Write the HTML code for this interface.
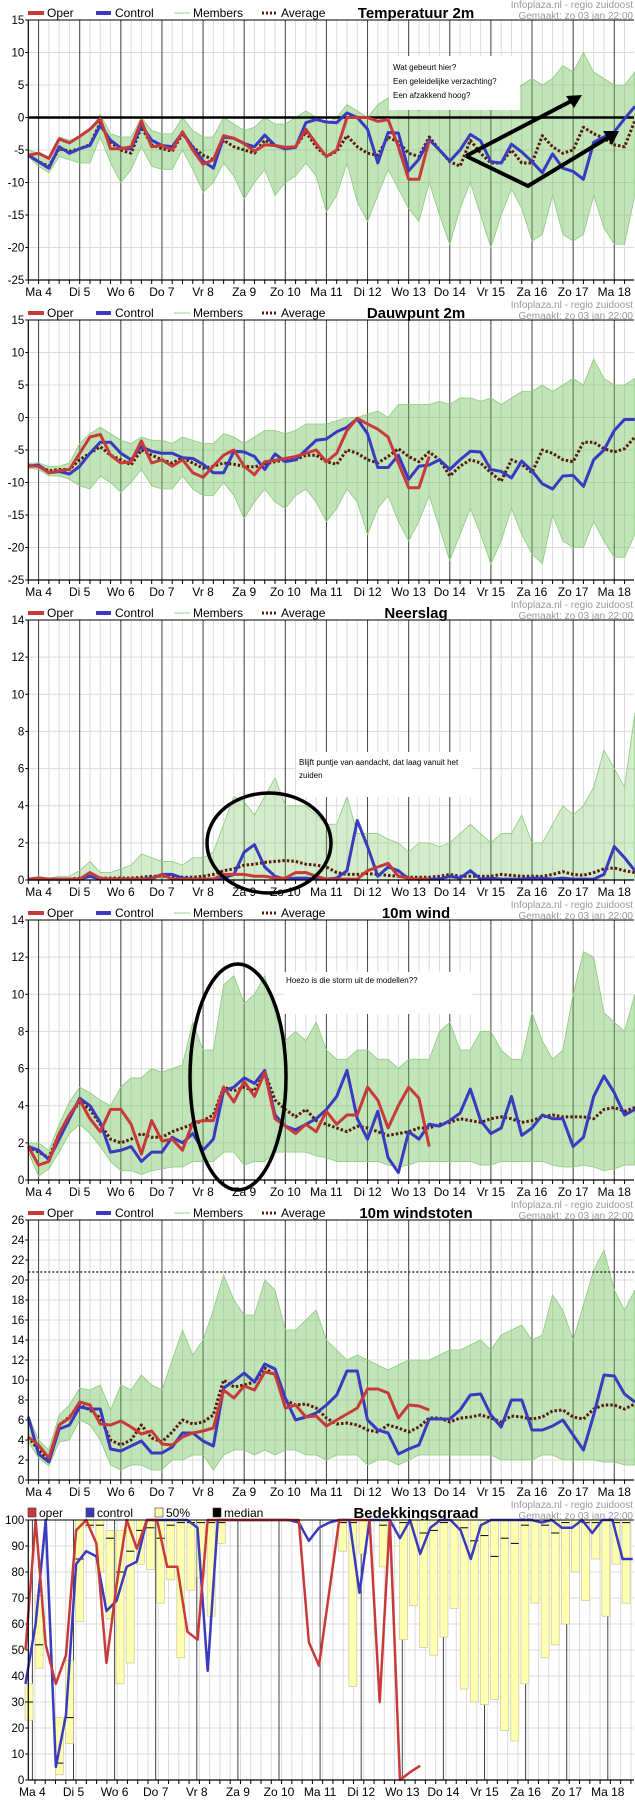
<!DOCTYPE html>
<html><head><meta charset="utf-8"><title>Ensemble pluim</title>
<style>
html,body{margin:0;padding:0;background:#fff;}
svg{display:block;font-family:"Liberation Sans",sans-serif;}
</style></head>
<body>
<svg id="chart" width="635" height="1800" viewBox="0 0 635 1800" xmlns="http://www.w3.org/2000/svg"></svg>
<script>
// ---------- shared labels ----------
const dayLabels = ["Ma 4","Di 5","Wo 6","Do 7","Vr 8","Za 9","Zo 10","Ma 11","Di 12","Wo 13","Do 14","Vr 15","Za 16","Zo 17","Ma 18"];

// ---------- Temperatuur 2m ----------
const tempOper = [-5.8,-5.5,-6.3,-3.3,-3.9,-2.9,-1.8,-0.2,-4.8,-4.8,-4.5,-0.5,-4.5,-4.3,-5,-2.2,-5,-7.2,-6.5,-2.8,-3.2,-4,-5.2,-4.2,-4.3,-4.6,-4.5,-1.8,-4,-6,-5,0,0,0,-0.6,-0.3,-4.5,-9.5,-9.5,-3.5];
const tempControl = [-5.8,-6.8,-7.8,-4.5,-5.5,-4.8,-4.3,-1.2,-3.5,-4.7,-4.8,-1.2,-3.5,-4.3,-4.5,-2.3,-4.6,-6.7,-7.8,-3,-3.2,-4,-4.5,-2.7,-4.3,-4.8,-4.6,-0.8,-0.3,-0.7,-0.8,0.7,0,-1.8,-7,-2.3,-2.4,-8.2,-6.4,-3.4,-5,-6.7,-5,-2.6,-3.6,-6.8,-7,-4.1,-5.3,-6.8,-8.5,-5.6,-7.8,-8.3,-9.5,-3.8,-3,-2.2,-0.2,1.7];
const tempAvg = [-5.8,-6.8,-7.5,-4.8,-5.2,-4.8,-4.2,-0.8,-3.8,-5,-5.5,-1.5,-4.2,-4.8,-5.2,-2.5,-4.5,-5.8,-6.5,-3.5,-4.5,-5,-5.5,-3.5,-4.3,-4.8,-4.5,-2.2,-4.5,-6,-5.2,-2.8,-4.5,-5.5,-5.8,-3,-3.8,-5.5,-6,-3,-5,-6.8,-7.5,-3.5,-5.5,-7,-7,-5,-7,-7,-2.8,-4.5,-5.5,-5,-1.5,-2.5,-3.2,-4.2,-4.5,-0.5];
const tempLow = [-6,-7.5,-8.5,-6,-6.5,-7,-7,-3,-7,-10,-8,-4.5,-7.5,-8,-8,-5,-8,-11.5,-10,-7,-9,-12.5,-10,-8,-12,-10,-9,-7,-9,-14.5,-12,-7,-13,-16,-12,-8,-11,-14,-16,-10,-15,-19.5,-14,-10,-15,-20,-15,-11,-14,-19,-18,-12,-18,-19,-18,-12,-17,-19.5,-19.5,-12];
const tempHigh = [-5,-5.5,-6,-3,-3.5,-3,-2,0.5,-2.5,-3,-3,0,-2,-2.5,-2.5,0,-2,-3,-3,0,-1,-2,-1.5,0,-1,-1,0,1,0,-1,0,2,1,0,2,3,3,2,1,2,3,2,3,4,3,3,2,4,5,6,5,6,8,7,10,7,6,5,5,7];

// ---------- Dauwpunt 2m ----------
const dewOper = [-7.4,-7.5,-8.5,-8.2,-8,-5.5,-3,-2.6,-5.8,-7,-6.8,-3.6,-7,-6.5,-7.5,-6.5,-8.5,-9.2,-7.5,-5.8,-5,-7.5,-8.8,-6.8,-6.6,-6.3,-6,-5.5,-5,-6.8,-5.5,-2,-0.1,-1,-1.8,-3,-7,-10.8,-10.8,-6];
const dewControl = [-7.5,-7.3,-8.5,-8.3,-8.7,-7.5,-5.5,-3.8,-3.8,-5.5,-6.5,-4.5,-5.2,-5.5,-5.5,-6.2,-6.3,-7.2,-8.5,-8.5,-5.2,-5.3,-6,-8,-5.6,-6.8,-6.5,-5,-3.5,-3.3,-2.2,-1.5,-0.2,-2.5,-7.7,-7.7,-5.8,-9.5,-7.5,-7.3,-6.5,-8,-6.5,-5.2,-5.3,-8,-8.3,-9.3,-6.7,-8.2,-10.2,-11,-9,-8.9,-10.6,-6.5,-5,-2,-0.3,-0.3];
const dewAvg = [-7.4,-7.5,-8.2,-8,-8,-6.5,-5.5,-4.5,-5.8,-6.5,-7.3,-5,-5.8,-6.5,-7,-6.2,-7,-7.8,-7.5,-7,-7.2,-7.5,-7.6,-7.2,-6.8,-6.5,-6.5,-5.8,-5.8,-6.8,-7.2,-5,-5.5,-6.5,-7,-6,-4.8,-6,-6.8,-5.3,-6.5,-9,-7.5,-6.5,-7,-8.5,-9.8,-6.5,-7.2,-8.5,-5,-5.5,-6.5,-6.8,-3.8,-3.8,-4.8,-5.3,-4.8,-3];
const dewLow = [-7.8,-8,-9,-9,-9.5,-10.5,-11,-9,-10,-11.5,-10,-8,-10.5,-11,-11,-9,-11,-12,-12,-10,-12,-15.5,-13,-11,-13,-14,-12,-11,-13,-16,-14,-11,-13,-18,-14,-12,-16,-19,-16,-12,-17,-22,-18,-14,-18,-22.5,-19,-14,-18,-21,-22.5,-15,-19,-20,-20,-16,-19,-21.5,-21.5,-18];
const dewHigh = [-7,-7,-7.5,-7.5,-7,-4,-2.5,-1.5,-2.5,-3.5,-4,-3,-3.5,-3.5,-4,-3,-3.5,-4,-4,-2.5,-3,-4,-3,-2,-2,-2.5,-2,-1,-1,-1,-0.5,0,0,0.5,1,0,2,2,2,2,2.5,2,3,3,2.5,3,2,3,4,4,5,4,5,6,5,9,6,5,5,6];

// ---------- Neerslag ----------
const rainOper = [0.05,0.1,0.05,0.05,0.05,0.05,0.4,0.1,0.05,0.05,0.05,0.05,0.05,0.3,0.05,0.05,0.05,0.05,0.05,0.3,0.3,0.3,0.2,0.2,0.1,0.1,0.4,0.4,0.2,0.05,0.05,0.05,0.05,0.5,0.7,0.9,0.2,0.1,0.05,0.05];
const rainControl = [0.05,0.05,0.05,0.05,0.05,0.05,0.2,0.05,0.05,0.05,0.05,0.05,0.1,0.3,0.3,0.1,0.05,0.05,0.05,0.1,0.3,1.5,1.9,0.7,0.2,0.05,0.1,0.1,0.05,0.05,0.1,0.5,3.2,1.8,0.2,0.7,0.5,0.05,0.05,0.05,0.05,0.2,0.1,0.5,0.05,0.1,0.05,0.05,0.05,0.1,0.1,0.05,0.1,0.05,0.05,0.05,0.3,1.8,1.2,0.5];
const rainAvg = [0.05,0.05,0.05,0.05,0.05,0.1,0.2,0.1,0.1,0.1,0.1,0.15,0.2,0.2,0.2,0.15,0.15,0.2,0.3,0.5,0.6,0.8,0.85,0.95,1.0,1.05,1.0,0.85,0.8,0.7,0.4,0.3,0.3,0.35,0.3,0.25,0.2,0.15,0.15,0.15,0.2,0.3,0.2,0.2,0.2,0.2,0.3,0.25,0.2,0.2,0.2,0.3,0.45,0.3,0.25,0.4,0.6,0.65,0.5,0.4];
const rainLow = [0,0,0,0,0,0,0,0,0,0,0,0,0,0,0,0,0,0,0,0,0,0,0,0,0,0,0,0,0,0,0,0,0,0,0,0,0,0,0,0,0,0,0,0,0,0,0,0,0,0,0,0,0,0,0,0,0,0,0,0];
const rainHigh = [0.1,0.2,0.1,0.2,0.2,0.5,1,0.4,0.4,0.6,0.8,1.4,1.2,1,1,0.8,1.2,1.2,1.5,3,4.5,4.2,3.5,4.5,5.5,4,4,4,3.5,3,3,4.5,2.5,2.5,2.5,2.2,2,1.5,2,2,1.8,2,2.5,3,2.5,2,2.5,2.5,3.5,2,2,3,4,3.5,4,5,7,6,5,9];

// ---------- 10m wind ----------
const windOper = [1.8,0.8,1,2.5,3.5,4.3,3.3,2.6,3.8,3.8,3,1.4,3.2,2.1,2.2,1.6,3.1,3.2,3.2,5,4.2,5.3,4.5,5.8,3.3,2.9,2.5,3,2.6,3.7,3,3.5,3.5,5,4.3,2.8,4,5,4.4,1.8];
const windControl = [1.8,1.6,1.1,2.2,3.3,4.4,4,3.1,1.5,1.6,1.8,1,1.5,1.5,2.3,2,2.5,1.6,2.2,4.8,5,5.5,5.2,5.9,3.5,2.9,2.7,3,3.3,3.8,4.5,5.9,3.3,2.2,3.7,1.2,0.4,2.6,2.2,3,2.9,3.2,3.6,4.9,3.2,2.5,2.8,4.5,2.4,2.8,3.5,3.3,3.3,1.8,2.3,4.5,5.6,4.7,3.5,3.8];
const windAvg = [1.8,1.5,1.2,2.5,3.5,4.2,3.8,3,2.2,2,2.2,2.5,2.3,2.3,2.6,2.8,3,3.2,3.5,5,4.8,5,4.8,5.8,4.3,3.8,3.4,3.8,3.2,3,2.8,2.6,2.9,2.8,2.6,2.4,2.5,2.6,2.8,2.8,3,3.1,3.3,3.2,3.1,3.3,3.4,3.3,3.1,3.2,3.4,3.5,3.4,3.4,3.4,3.3,3.8,3.9,3.7,3.9];
const windLow = [1.5,0.2,0.6,1.5,2.5,3,2.5,1.8,1,0.5,0.5,0.3,0.5,0.6,0.7,0.7,1,1,1,1.5,1.5,0.8,1,1,1.5,1.5,1.5,1.5,1.3,1.2,1,1,1,1,1,0.8,0.7,0.8,1,1,1,1,1,1,0.8,0.8,1,1,1,1,1,0.8,0.7,0.7,0.8,0.7,0.5,0.6,0.8,0.8];
const windHigh = [2,2,1.6,3,4.2,5,4.7,4.3,4,5,5.5,5.5,6,5.8,6,6.2,8.5,7,7,10.5,11,9.5,10,11,9,7.5,8,7.5,8.5,7,6.5,6.5,7,7,6.5,6.5,6,6.5,6.5,6.5,8,8.5,7,7,8,8,7,6.5,6.5,9,7.5,6.5,7,10,12.3,12,9,8.5,8,10];

// ---------- 10m windstoten ----------
const gustOper = [4.3,3.5,2.2,5.5,6.2,7.8,7.5,5.6,5.5,5.9,5.3,4.6,4.9,3.6,3.5,4.3,4.7,4.9,5.2,9,8.2,9.4,9,10.8,10.6,7.2,7.5,6.3,6.4,5.4,6,6.6,7.2,9.1,9.1,8.7,6.2,7.5,7.4,7];
const gustControl = [6.3,2.6,1.8,5.1,5.5,7.3,7.1,7.1,3.1,2.9,3.4,3.9,2.7,2.7,3.3,4.7,4.7,3.9,3.4,9.2,9.9,10.7,9.8,11.6,11.1,8.2,6,6.3,6.7,7.5,8.5,10.9,10.9,6,5,4.7,2.6,3.1,3.5,6.1,6.1,6.1,7,8.5,8.6,6.5,5.3,8,8,5,5,5.4,6,4.5,3,6.5,10.5,10.4,8.6,7.8];
const gustAvg = [4.3,3,2,5.5,6.3,7.5,7,6.2,4,3.5,4,5.5,4.2,3.8,4.8,6,5.6,5.8,6.5,10,9.3,9.5,9.8,11.2,10.5,8,7.5,7.6,7.2,6.2,5.6,5.7,5.5,5,4.8,5.5,5.2,4.8,5.3,6.2,6.2,5.8,6.2,6.3,6.5,6.2,5.8,6.4,6.3,6.1,6.3,6.9,7,6.3,6.1,7.1,7.5,7.5,7.1,7.6];
const gustLow = [3.8,2.2,1.4,3.8,4,6,5.5,4,1.5,1,1.5,1.5,1,1,2,2,2.5,2.5,1,2.5,3,3,2.5,3,2.5,3,3,2.5,2.5,2,2.5,2.5,2.5,1.5,2,2,1.5,2,2.5,2.5,2.5,2.5,2.5,2.5,2.5,2.5,2,2,2,2,2.5,2.5,2,2,2,2,1.8,1.8,1.5,1.5];
const gustHigh = [6.5,4,3,6.5,7.5,9.2,9,9.5,7,9.5,9,10.5,9.5,9,12,15,12.5,14,17,20.5,18,16.5,16.5,20,19,15,15,16,17,14,13,12,12.5,12,11.5,11,11.5,12,12,12,12.5,13,13,13.5,14,13,14.5,15,15.5,14,14.5,18.5,17,14,17.5,21,23,19,17,19];
const gustThreshold = [20.8];

// ---------- Bedekkingsgraad ----------
const cloudOper = [50,100,52,37,48,96,100,91,45,75,100,89,100,100,82,82,57,54,100,100,100,100,100,100,100,100,100,100,53,44,72,100,100,100,100,30,100,0,3,5.5];
const cloudControl = [37,60,100,5,25,83,88,86,65,69,82,84,100,100,100,100,100,97,42,100,100,100,100,100,100,100,100,99,92,97,99,100,100,72,100,100,100,93,100,87,97,100,100,96,85,98,100,100,100,100,100,99,100,97,97,100,95,100,100,85,85];
const cloudQ1 = [23,43,100,2,14,61,97,80,62,37,45,83,81,68,77,47,73,78,63,91,100,100,100,100,100,100,100,100,100,100,100,88,36,87,100,82,100,54,67,51,48,55,66,35,30,29,31,19,15,37,68,47,52,60,80,69,85,63,83,68];
const cloudQ3 = [37,71,100,24,46,100,100,100,96,96,100,100,100,100,100,100,100,100,100,100,100,100,100,100,100,100,100,100,100,100,100,100,100,100,100,100,100,100,100,100,100,100,100,100,100,100,100,100,100,100,100,100,100,100,100,100,100,100,100,100];
const cloudMedian = [30,52,100,6.5,24,85,98,98,93,80,88,96,97,93,98,99,99,99,99,99,100,100,100,100,100,100,100,100,100,100,100,99,99,100,100,98,100,99,100,95,96,99,100,97,92,94,86,93,91,98,100,98,95,99,100,99,99,100,99,99];

const NS="http://www.w3.org/2000/svg";
const svg=document.getElementById('chart');
function mk(tag,attrs,name,parent){
  const el=document.createElementNS(NS,tag);
  for(const k in attrs) el.setAttribute(k,attrs[k]);
  
  
  (parent||svg).appendChild(el);
  return el;
}
function txt(x,y,s,size,name,extra,parent){
  const a=Object.assign({x:x,y:y,'font-size':size,fill:'#000'},extra||{});
  const t=mk('text',a,name,parent);
  t.textContent=s;
  return t;
}
const PL=28.3, PR=634, X0=28.3, STEP=10.28;
function xs(i){return X0+i*STEP;}

function header(g,off,title,isCloud){
  if(!isCloud){
    mk('line',{x1:28,y1:off+13,x2:44,y2:off+13,stroke:'#c83a3a','stroke-width':4},'legend-oper-swatch',g);
    txt(47,off+17,'Oper',12,'legend-oper-label',{},g);
    mk('line',{x1:96,y1:off+13,x2:111,y2:off+13,stroke:'#3a3ac0','stroke-width':4},'legend-control-swatch',g);
    txt(115,off+17,'Control',12,'legend-control-label',{},g);
    mk('line',{x1:174,y1:off+13,x2:190,y2:off+13,stroke:'#9fd294','stroke-width':1},'legend-members-swatch',g);
    txt(193,off+17,'Members',12,'legend-members-label',{},g);
    mk('line',{x1:262,y1:off+13,x2:277,y2:off+13,stroke:'#5a1a0a','stroke-width':3,'stroke-dasharray':'2,2'},'legend-average-swatch',g);
    txt(281,off+17,'Average',12,'legend-average-label',{},g);
  } else {
    const items=[['#c83a3a','oper',28],['#3a3ac0','control',86],['#ffffb0','50%',155],['#000','median',213]];
    items.forEach(it=>{
      mk('rect',{x:it[2],y:off+8,width:8,height:9,fill:it[0],stroke:'#333','stroke-width':0.6},'legend-'+it[1].replace('%','pct')+'-swatch',g);
      txt(it[2]+11,off+17,it[1],12,'legend-'+it[1].replace('%','pct')+'-label',{},g);
    });
  }
  txt(416,off+18,title,15,'chart-title',{'font-weight':'bold','text-anchor':'middle'},g);
  txt(633,off+8,'Infoplaza.nl - regio zuidoost',10,'source-label',{'text-anchor':'end',fill:'#999'},g);
  txt(633,off+19,'Gemaakt: zo 03 jan 22:00',10,'made-label',{'text-anchor':'end',fill:'#999'},g);
}

function panel(cfg){
  const g=mk('g',{},cfg.name);
  const off=cfg.off, top=off+20, bot=off+280;
  const ys=v=>bot-(v-cfg.min)/(cfg.max-cfg.min)*260;
  const xf=cfg.xf||xs;
  header(g,off,cfg.title,cfg.cloud);
  // horizontal grid + tick labels
  for(let v=cfg.min; v<=cfg.max+0.001; v+=cfg.step){
    mk('line',{x1:PL,y1:ys(v),x2:PR,y2:ys(v),stroke:'#dcdcdc','stroke-width':1},'y-gridline',g);
    mk('line',{x1:PL-3,y1:ys(v),x2:PL,y2:ys(v),stroke:'#000','stroke-width':1},'y-tick',g);
    txt(PL-4,ys(v)+4,String(v),11.5,'y-tick-label',{'text-anchor':'end'},g);
  }
  // vertical 6h grid
  const nGrid=cfg.cloud?61:60;
  for(let i=0;i<nGrid;i++){
    const x=cfg.cloud?(32.4-STEP*0.75+(i-0)*10.28*0.0+i*41.1/4):xs(i);
    if(x<PL||x>PR) continue;
    mk('line',{x1:x,y1:top,x2:x,y2:bot,stroke:'#dcdcdc','stroke-width':1},'x-gridline',g);
    mk('line',{x1:x,y1:bot,x2:x,y2:bot+4,stroke:'#000','stroke-width':1},'x-tick',g);
  }
  // day lines + labels
  dayLabels.forEach((d,k)=>{
    const x=cfg.cloud?32.4+41.1*k:xs(1+4*k);
    mk('line',{x1:x,y1:top,x2:x,y2:bot,stroke:'#444','stroke-width':1},'day-gridline',g);
    txt(x,bot+16,d,12,'x-tick-label',{'text-anchor':'middle'},g);
  });
  if(!cfg.cloud){
    // member envelope
    let pts=cfg.high.map((v,i)=>xf(i)+','+ys(v));
    for(let i=cfg.low.length-1;i>=0;i--) pts.push(xf(i)+','+ys(cfg.low[i]));
    mk('polygon',{points:pts.join(' '),fill:'#6cbf55','fill-opacity':cfg.op||0.42,stroke:'#8ccc7c','stroke-width':0.8},'members-envelope',g);
    const line=(arr,st,w,name,dash)=>{
      const a={points:arr.map((v,i)=>xf(i)+','+ys(v)).join(' '),fill:'none',stroke:st,'stroke-width':w,'stroke-linejoin':'round'};
      if(dash) a['stroke-dasharray']=dash;
      mk('polyline',a,name,g);
    };
    if(cfg.zero!==undefined) mk('line',{x1:PL,y1:ys(0),x2:PR,y2:ys(0),stroke:'#000','stroke-width':2.5},'zero-line',g);
    if(cfg.thr) mk('line',{x1:PL,y1:ys(cfg.thr[0]),x2:PR,y2:ys(cfg.thr[0]),stroke:'#333','stroke-width':1.5,'stroke-dasharray':'2,2'},'threshold-line',g);
    line(cfg.avg,'#5a1a0a',3,'average-line','2.5,2');
    line(cfg.control,'#3a3ac0',3,'control-line');
    line(cfg.oper,'#c83a3a',3,'oper-line');
  } else {
    const xc=i=>25.5+i*10.12;
    cloudQ1.forEach((q,i)=>{
      const x=xc(i)+3.5-4, h=ys(q)-ys(cloudQ3[i]);
      if(h>0.5) mk('rect',{x:x,y:ys(cloudQ3[i]),width:8,height:h,fill:'#ffffb0',stroke:'#c8c8a0','stroke-width':0.7},'cloud-50pct-bar',g);
      mk('line',{x1:x,y1:ys(cloudMedian[i]),x2:x+8,y2:ys(cloudMedian[i]),stroke:'#000','stroke-width':1},'cloud-median-tick',g);
    });
    const line=(arr,st,name)=>mk('polyline',{points:arr.map((v,i)=>xc(i)+','+ys(v)).join(' '),fill:'none',stroke:st,'stroke-width':2.5,'stroke-linejoin':'round'},name,g);
    line(cloudControl,'#3a3ac0','control-line');
    line(cloudOper,'#c83a3a','oper-line');
  }
  // axes
  mk('line',{x1:PL,y1:top,x2:PR,y2:top,stroke:'#000','stroke-width':1},'plot-top-border',g);
  mk('line',{x1:PL,y1:top,x2:PL,y2:bot,stroke:'#000','stroke-width':1.2},'y-axis',g);
  mk('line',{x1:PL,y1:bot,x2:PR,y2:bot,stroke:'#000','stroke-width':1.2},'x-axis',g);
  return g;
}

panel({name:'temperature-panel',off:0,min:-25,max:15,step:5,title:'Temperatuur 2m',oper:tempOper,control:tempControl,avg:tempAvg,low:tempLow,high:tempHigh,zero:0});
panel({name:'dewpoint-panel',off:300,min:-25,max:15,step:5,title:'Dauwpunt 2m',oper:dewOper,control:dewControl,avg:dewAvg,low:dewLow,high:dewHigh});
panel({name:'precipitation-panel',off:600,min:0,max:14,step:2,title:'Neerslag',oper:rainOper,control:rainControl,avg:rainAvg,low:rainLow,high:rainHigh,op:0.3});
panel({name:'wind-panel',off:900,min:0,max:14,step:2,title:'10m wind',oper:windOper,control:windControl,avg:windAvg,low:windLow,high:windHigh});
panel({name:'gust-panel',off:1200,min:0,max:26,step:2,title:'10m windstoten',oper:gustOper,control:gustControl,avg:gustAvg,low:gustLow,high:gustHigh,thr:gustThreshold});
panel({name:'cloud-cover-panel',off:1500,min:0,max:100,step:10,title:'Bedekkingsgraad',cloud:true});

// ---------- annotations ----------
const ann=mk('g',{},'annotations');
mk('rect',{x:389,y:56,width:131,height:54,fill:'#fff'},'annotation-box-temperature',ann);
txt(393,70,'Wat gebeurt hier?',8,'annotation-text',{},ann);
txt(393,84,'Een geleidelijke verzachting?',8,'annotation-text',{},ann);
txt(393,98,'Een afzakkend hoog?',8,'annotation-text',{},ann);
mk('polyline',{points:'466,156 577,98',fill:'none',stroke:'#000','stroke-width':4},'annotation-arrow-up',ann);
mk('polygon',{points:'582,95 566,96 574,108',fill:'#000'},'annotation-arrowhead',ann);
mk('polyline',{points:'466,156 528,186 614,134',fill:'none',stroke:'#000','stroke-width':4},'annotation-arrow-dip',ann);
mk('polygon',{points:'619,131 603,131 612,145',fill:'#000'},'annotation-arrowhead',ann);
mk('rect',{x:296,y:752,width:176,height:45,fill:'#fff'},'annotation-box-precipitation',ann);
txt(299,765,'Blijft puntje van aandacht, dat laag vanuit het',8,'annotation-text',{},ann);
txt(299,778,'zuiden',8,'annotation-text',{},ann);
mk('ellipse',{cx:269,cy:843,rx:62,ry:50,fill:'none',stroke:'#000','stroke-width':3.5},'annotation-circle-precipitation',ann);
mk('rect',{x:284,y:972,width:188,height:42,fill:'#fff'},'annotation-box-wind',ann);
txt(286,983,'Hoezo is die storm uit de modellen??',8,'annotation-text',{},ann);
mk('ellipse',{cx:238,cy:1077,rx:48,ry:113,fill:'none',stroke:'#000','stroke-width':3.5},'annotation-circle-wind',ann);
</script>
</body></html>
